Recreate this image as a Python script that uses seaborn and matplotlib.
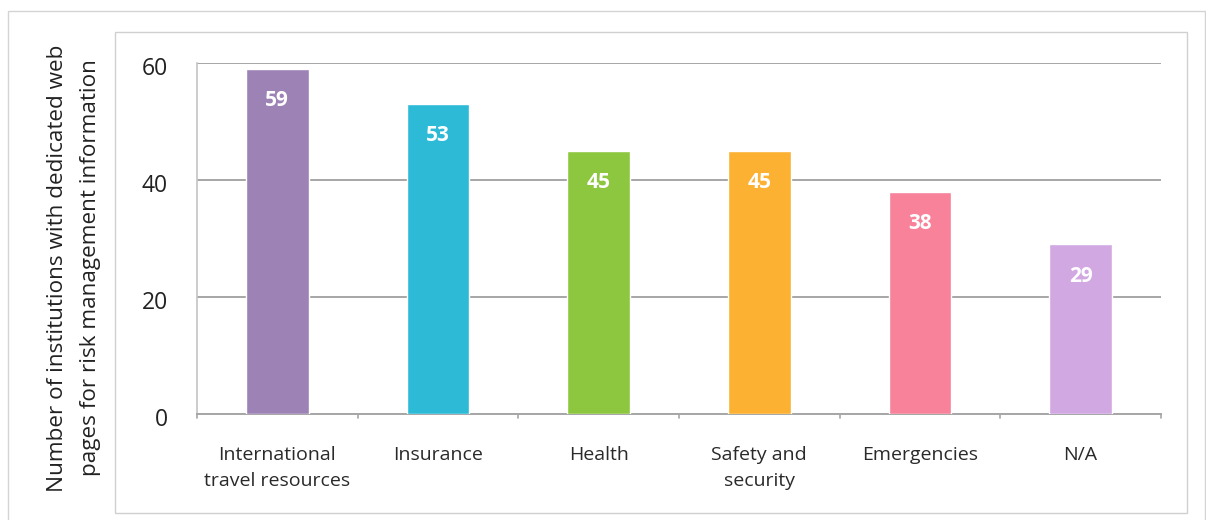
import matplotlib
matplotlib.use("Agg")
import matplotlib.pyplot as plt
from matplotlib.patches import Rectangle
from matplotlib.transforms import ScaledTranslation
import seaborn as sns
import pandas as pd

categories = ["International\ntravel resources", "Insurance", "Health",
              "Safety and\nsecurity", "Emergencies", "N/A"]
counts = [59, 53, 45, 45, 38, 29]
bar_colors = ["#9d82b5", "#2cbad6", "#8dc63f", "#fcb132", "#f7829a", "#d2a8e3"]
y_ticks = [0, 20, 40, 60]
y_label = "Number of institutions with dedicated web\npages for risk management information"

sns.set_theme(style="white")
plt.rcParams["font.family"] = ["Open Sans", "DejaVu Sans"]

df = pd.DataFrame({"category": categories, "count": counts})

fig = plt.figure(figsize=(12.06, 5.2), dpi=100)
fig.patch.set_facecolor("white")

# outer frame and inner panel frame
fig.patches.append(Rectangle((8 / 1206, -0.05), 1197 / 1206, 1.05 - 11 / 520,
                             transform=fig.transFigure, fill=False,
                             edgecolor="#d4d4d4", linewidth=1.0))
fig.patches.append(Rectangle((115 / 1206, 1 - 513 / 520), 1072 / 1206, 481 / 520,
                             transform=fig.transFigure, fill=False,
                             edgecolor="#d0d0d0", linewidth=1.0))

ax = fig.add_axes([197 / 1206, 1 - 414 / 520, 964 / 1206, 351 / 520])
ax.set_facecolor("none")

sns.barplot(data=df, x="category", y="count", hue="category",
            palette=bar_colors, legend=False, width=0.39, saturation=1,
            ax=ax, zorder=3)

ax.set_ylim(0, 60)
ax.set_xlim(-0.5, len(categories) - 0.5)
ax.set_yticks(y_ticks)
ax.set_yticklabels([str(t) for t in y_ticks], fontsize=16.5, color="#222222")
ax.yaxis.grid(True, color="#a6a6a6", linewidth=1.4, zorder=0)
ax.set_axisbelow(True)

for side in ["top", "right"]:
    ax.spines[side].set_visible(False)
ax.spines["left"].set_color("#c4c4c4")
ax.spines["left"].set_linewidth(1.2)
ax.spines["bottom"].set_color("#a6a6a6")
ax.spines["bottom"].set_linewidth(1.4)

ax.tick_params(axis="y", length=0, pad=21)
shift = ScaledTranslation(0, -3 / 100, fig.dpi_scale_trans)
for lbl in ax.get_yticklabels():
    lbl.set_transform(lbl.get_transform() + shift)

ax.set_xticks(range(len(categories)))
ax.set_xticklabels(categories, fontsize=14, color="#2a2a2a", linespacing=1.6)
ax.tick_params(axis="x", length=0, pad=23)
for xb in [i - 0.5 for i in range(len(categories) + 1)]:
    ax.plot([xb, xb], [0, -0.012], transform=ax.get_xaxis_transform(),
            color="#a6a6a6", linewidth=1.2, clip_on=False)

ax.set_xlabel("")
ax.set_ylabel("")
fig.text(74 / 1206, 1 - 268 / 520, y_label, rotation=90, ha="center", va="center",
         fontsize=16.2, color="#222222", linespacing=1.8)

for i, v in enumerate(counts):
    ax.annotate(str(v), (i, v), xytext=(0, -23), textcoords="offset points",
                ha="center", va="center", color="white", fontsize=15,
                fontweight="bold")

fig.savefig("out.png", dpi=100, facecolor="white")
